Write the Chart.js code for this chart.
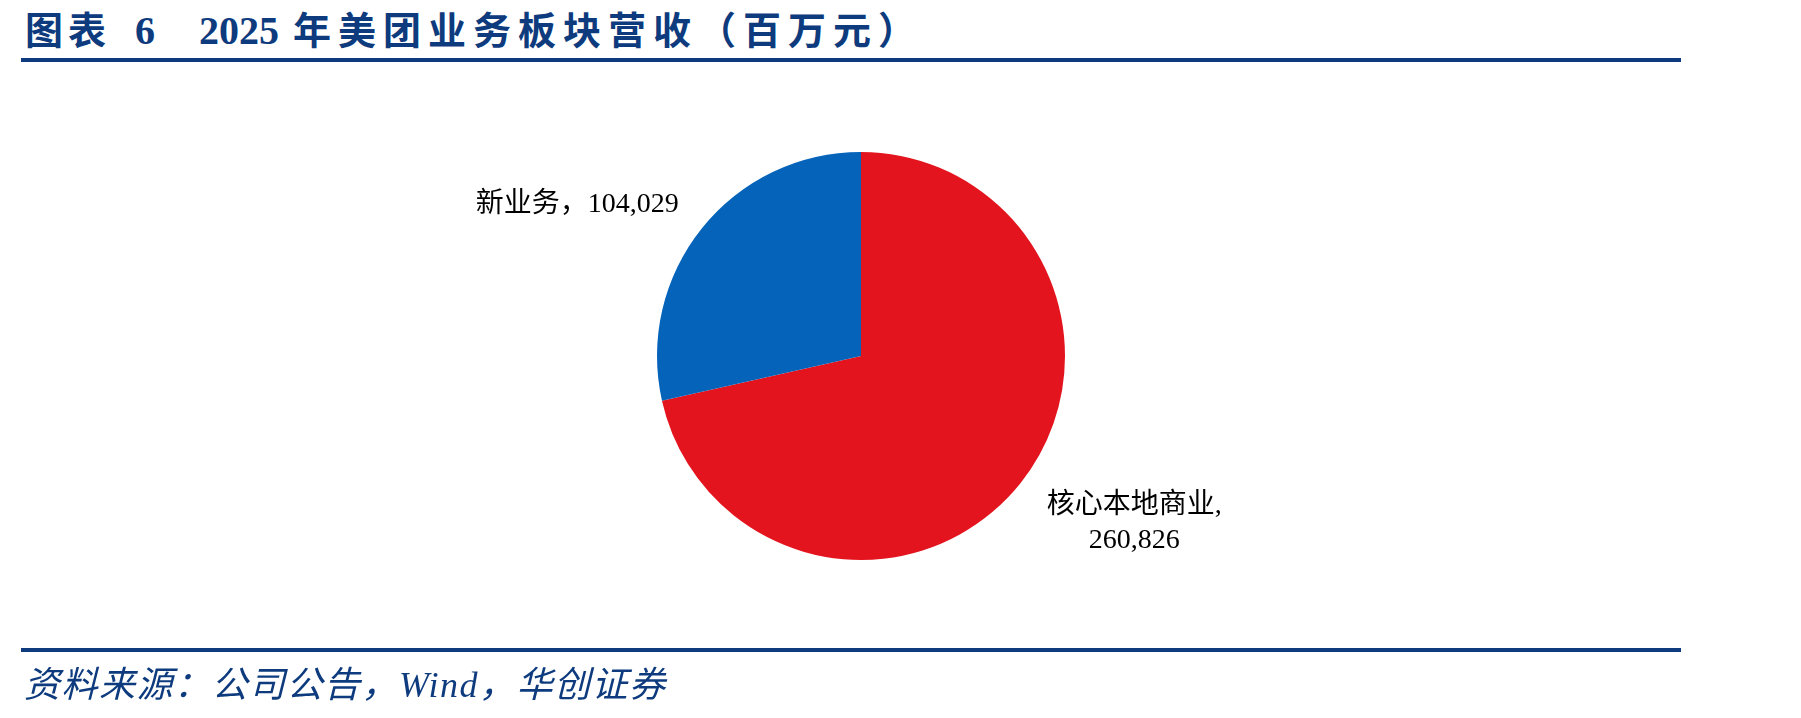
<!DOCTYPE html>
<html>
<head>
<meta charset="utf-8">
<script src="https://cdn.jsdelivr.net/npm/chart.js@4"></script>
<style>
  html, body { margin: 0; padding: 0; background: #fff; }
  #wrap { position: relative; width: 1801px; height: 718px; overflow: hidden; }
  #pie { position: absolute; left: 0; top: 0; }
  .title {
    position: absolute; top: 8px; white-space: pre;
    font-family: "Liberation Serif", "Noto Sans CJK SC", serif;
    font-weight: bold; font-size: 38px; color: #0d3b7e; line-height: 46px;
    letter-spacing: 7px;
  }
  .title.num { letter-spacing: 0; font-size: 40px; }
  .rule { position: absolute; left: 21px; width: 1660px; height: 4px; background: #0d3b7e; }
  .source {
    position: absolute; left: 24px; top: 663px; white-space: pre;
    font-family: "Liberation Serif", "Noto Sans CJK SC", serif;
    font-style: italic; font-size: 36px; color: #0d3b7e; line-height: 44px;
    letter-spacing: 1.5px;
  }
</style>
</head>
<body>
<div id="wrap">
  <div class="title" style="left:25px;letter-spacing:5px">图表</div>
  <div class="title num" style="left:135px">6</div>
  <div class="title num" style="left:199px">2025</div>
  <div class="title" style="left:293px">年美团业务板块营收（百万元）</div>
  <div class="rule" style="top:58px"></div>
  <canvas id="pie" width="1801" height="718"></canvas>
  <div class="rule" style="top:648px"></div>
  <div class="source">资料来源：公司公告，Wind，华创证券</div>
</div>
<script>
  // 2025 revenue by segment (RMB mn)
  const segments = ['核心本地商业', '新业务'];
  const revenue = [260826, 104029];
  const sliceColors = ['#E4141E', '#0563BA'];

  // label placement relative to the slice's outer mid point
  const labelStyle = [
    { dx: 114, dy: 22, align: 'center', split: true },
    { dx: -23, dy: -24, align: 'right', split: false }
  ];

  const fmt = v => v.toLocaleString('en-US');

  const sliceLabels = {
    id: 'sliceLabels',
    afterDatasetsDraw(chart) {
      const ctx = chart.ctx;
      const meta = chart.getDatasetMeta(0);
      ctx.save();
      ctx.fillStyle = '#000';
      ctx.textBaseline = 'middle';
      ctx.font = '28px "Liberation Serif", "Noto Sans CJK SC", serif';
      meta.data.forEach((arc, i) => {
        const p = arc.getProps(['x', 'y', 'startAngle', 'endAngle', 'outerRadius'], true);
        const mid = (p.startAngle + p.endAngle) / 2;
        const px = p.x + Math.cos(mid) * p.outerRadius;
        const py = p.y + Math.sin(mid) * p.outerRadius;
        const st = labelStyle[i];
        ctx.textAlign = st.align;
        const x = px + st.dx, y = py + st.dy;
        if (st.split) {
          ctx.fillText(segments[i] + ',', x, y);
          ctx.fillText(fmt(revenue[i]), x, y + 35);
        } else {
          ctx.fillText(segments[i] + '，' + fmt(revenue[i]), x, y);
        }
      });
      ctx.restore();
    }
  };

  new Chart(document.getElementById('pie'), {
    type: 'pie',
    data: {
      labels: segments,
      datasets: [{ data: revenue, backgroundColor: sliceColors, borderWidth: 0 }]
    },
    options: {
      responsive: false,
      animation: false,
      layout: { padding: { left: 657, right: 736, top: 152, bottom: 158 } },
      plugins: { legend: { display: false }, tooltip: { enabled: false } }
    },
    plugins: [sliceLabels]
  });
</script>
</body>
</html>
